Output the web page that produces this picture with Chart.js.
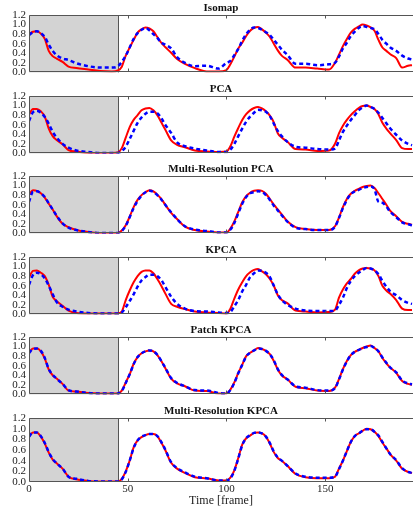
<!DOCTYPE html>
<html>
<head>
<meta charset="utf-8">
<script src="https://cdn.jsdelivr.net/npm/chart.js@4"></script>
<style>
  html, body { margin: 0; padding: 0; background: #fff; }
  #wrap { position: relative; width: 413px; height: 512px; overflow: hidden; }
  #wrap .panel { position: absolute; left: 0; width: 413px; }
</style>
</head>
<body>
<div id="wrap"></div>
<script>
// frame index shared by every series
const frames = [0, 2, 4, 6, 8, 10, 12, 14, 17, 20,
  24, 30, 36, 42, 45, 47, 49, 51, 53, 55,
  57, 59, 61, 63, 65, 67, 69, 72, 75, 79,
  84, 90, 96, 100, 102, 104, 106, 108, 110, 112,
  114, 116, 118, 120, 122, 124, 126, 128, 131, 135,
  140, 146, 152, 155, 157, 159, 161, 163, 165, 167,
  169, 171, 173, 175, 177, 179, 181, 183, 186, 189,
  192, 194];

const isomapTrue = [0.80, 0.85, 0.86, 0.81, 0.70, 0.45, 0.34, 0.29, 0.22, 0.12,
  0.09, 0.06, 0.03, 0.02, 0.04, 0.12, 0.35, 0.52, 0.68, 0.83,
  0.90, 0.94, 0.92, 0.86, 0.74, 0.62, 0.53, 0.41, 0.28, 0.18,
  0.09, 0.02, 0.02, 0.05, 0.17, 0.33, 0.50, 0.62, 0.76, 0.87,
  0.93, 0.95, 0.90, 0.83, 0.74, 0.60, 0.46, 0.35, 0.26, 0.10,
  0.10, 0.08, 0.06, 0.20, 0.37, 0.55, 0.70, 0.83, 0.91, 0.96,
  1.00, 0.98, 0.94, 0.87, 0.68, 0.52, 0.45, 0.38, 0.30, 0.10,
  0.14, 0.15];
const isomapEst = [0.78, 0.84, 0.86, 0.82, 0.74, 0.58, 0.45, 0.36, 0.29, 0.26,
  0.19, 0.13, 0.10, 0.10, 0.13, 0.22, 0.35, 0.52, 0.70, 0.82,
  0.89, 0.93, 0.88, 0.80, 0.72, 0.62, 0.58, 0.50, 0.32, 0.20,
  0.13, 0.14, 0.08, 0.20, 0.24, 0.36, 0.49, 0.66, 0.80, 0.89,
  0.94, 0.93, 0.89, 0.84, 0.78, 0.68, 0.58, 0.48, 0.36, 0.18,
  0.18, 0.15, 0.17, 0.20, 0.33, 0.50, 0.62, 0.76, 0.85, 0.93,
  0.97, 0.95, 0.93, 0.90, 0.80, 0.68, 0.60, 0.52, 0.45, 0.35,
  0.29, 0.27];

const pcaTrue = [0.81, 0.93, 0.93, 0.88, 0.77, 0.52, 0.36, 0.28, 0.19, 0.07,
  0.04, 0.01, 0.01, 0.01, 0.02, 0.11, 0.33, 0.55, 0.70, 0.80,
  0.90, 0.94, 0.95, 0.90, 0.80, 0.65, 0.50, 0.27, 0.18, 0.13,
  0.06, 0.04, 0.03, 0.04, 0.15, 0.35, 0.53, 0.70, 0.82, 0.90,
  0.95, 0.97, 0.94, 0.88, 0.79, 0.65, 0.42, 0.33, 0.24, 0.09,
  0.08, 0.05, 0.06, 0.20, 0.42, 0.58, 0.70, 0.80, 0.88, 0.95,
  0.99, 1.00, 0.97, 0.93, 0.82, 0.64, 0.52, 0.42, 0.28, 0.11,
  0.09, 0.09];
const pcaEst = [0.68, 0.86, 0.89, 0.85, 0.76, 0.62, 0.45, 0.33, 0.20, 0.12,
  0.06, 0.03, 0.01, 0.01, 0.01, 0.05, 0.14, 0.30, 0.47, 0.64,
  0.75, 0.83, 0.87, 0.87, 0.84, 0.74, 0.60, 0.43, 0.23, 0.15,
  0.10, 0.06, 0.03, 0.03, 0.08, 0.20, 0.36, 0.52, 0.66, 0.77,
  0.85, 0.91, 0.90, 0.87, 0.78, 0.62, 0.47, 0.36, 0.24, 0.14,
  0.12, 0.09, 0.08, 0.10, 0.27, 0.45, 0.58, 0.70, 0.80, 0.90,
  0.96, 1.00, 0.97, 0.93, 0.85, 0.74, 0.63, 0.52, 0.39, 0.27,
  0.20, 0.17];

const mrPcaTrue = [0.81, 0.90, 0.89, 0.84, 0.75, 0.62, 0.50, 0.36, 0.20, 0.13,
  0.07, 0.03, 0.01, 0.01, 0.01, 0.06, 0.17, 0.35, 0.55, 0.70,
  0.80, 0.86, 0.90, 0.88, 0.81, 0.72, 0.60, 0.43, 0.30, 0.14,
  0.07, 0.04, 0.02, 0.02, 0.10, 0.25, 0.45, 0.65, 0.78, 0.85,
  0.89, 0.90, 0.89, 0.83, 0.72, 0.60, 0.50, 0.40, 0.25, 0.13,
  0.09, 0.07, 0.07, 0.15, 0.33, 0.55, 0.72, 0.83, 0.89, 0.93,
  0.97, 0.99, 1.00, 0.95, 0.84, 0.72, 0.60, 0.47, 0.36, 0.24,
  0.20, 0.18];
const mrPcaEst = [0.66, 0.87, 0.88, 0.84, 0.76, 0.63, 0.50, 0.37, 0.21, 0.12,
  0.07, 0.03, 0.01, 0.01, 0.01, 0.05, 0.16, 0.34, 0.53, 0.68,
  0.79, 0.86, 0.89, 0.87, 0.80, 0.71, 0.60, 0.44, 0.30, 0.15,
  0.08, 0.05, 0.02, 0.02, 0.08, 0.22, 0.42, 0.62, 0.76, 0.84,
  0.86, 0.88, 0.87, 0.80, 0.70, 0.58, 0.48, 0.38, 0.24, 0.12,
  0.09, 0.07, 0.07, 0.14, 0.32, 0.53, 0.70, 0.82, 0.88, 0.91,
  0.95, 0.97, 0.98, 0.92, 0.66, 0.64, 0.56, 0.45, 0.34, 0.23,
  0.19, 0.17];

const kpcaTrue = [0.77, 0.91, 0.92, 0.87, 0.80, 0.62, 0.37, 0.28, 0.18, 0.08,
  0.03, 0.02, 0.02, 0.02, 0.02, 0.06, 0.30, 0.50, 0.67, 0.80,
  0.89, 0.92, 0.92, 0.86, 0.74, 0.60, 0.44, 0.22, 0.16, 0.11,
  0.06, 0.04, 0.03, 0.02, 0.12, 0.33, 0.52, 0.67, 0.80, 0.88,
  0.93, 0.95, 0.90, 0.84, 0.74, 0.60, 0.40, 0.30, 0.23, 0.08,
  0.06, 0.04, 0.05, 0.10, 0.35, 0.52, 0.65, 0.74, 0.85, 0.92,
  0.96, 0.97, 0.96, 0.92, 0.80, 0.60, 0.50, 0.43, 0.30, 0.12,
  0.09, 0.09];
const kpcaEst = [0.62, 0.82, 0.87, 0.84, 0.75, 0.60, 0.42, 0.26, 0.16, 0.10,
  0.06, 0.03, 0.02, 0.02, 0.02, 0.04, 0.15, 0.28, 0.42, 0.58,
  0.71, 0.78, 0.83, 0.83, 0.80, 0.72, 0.58, 0.37, 0.22, 0.12,
  0.07, 0.06, 0.04, 0.03, 0.05, 0.17, 0.30, 0.48, 0.62, 0.78,
  0.86, 0.92, 0.91, 0.87, 0.78, 0.60, 0.42, 0.30, 0.20, 0.12,
  0.08, 0.07, 0.07, 0.08, 0.20, 0.35, 0.55, 0.70, 0.80, 0.87,
  0.93, 0.97, 0.96, 0.92, 0.84, 0.70, 0.58, 0.48, 0.40, 0.30,
  0.24, 0.22];

const patchKpcaTrue = [0.87, 0.96, 0.96, 0.90, 0.75, 0.52, 0.40, 0.33, 0.22, 0.08,
  0.06, 0.03, 0.02, 0.02, 0.02, 0.08, 0.25, 0.42, 0.64, 0.78,
  0.86, 0.90, 0.92, 0.90, 0.82, 0.70, 0.55, 0.33, 0.23, 0.17,
  0.08, 0.07, 0.02, 0.02, 0.10, 0.25, 0.45, 0.62, 0.80, 0.87,
  0.92, 0.97, 0.95, 0.91, 0.84, 0.70, 0.52, 0.40, 0.31, 0.16,
  0.13, 0.08, 0.07, 0.14, 0.32, 0.53, 0.70, 0.82, 0.89, 0.93,
  0.97, 1.00, 1.02, 0.97, 0.90, 0.76, 0.65, 0.56, 0.45, 0.28,
  0.22, 0.20];
const patchKpcaEst = [0.86, 0.95, 0.96, 0.91, 0.76, 0.53, 0.41, 0.33, 0.22, 0.09,
  0.06, 0.03, 0.02, 0.02, 0.02, 0.07, 0.24, 0.42, 0.63, 0.78,
  0.86, 0.90, 0.92, 0.90, 0.83, 0.70, 0.56, 0.34, 0.24, 0.17,
  0.09, 0.08, 0.03, 0.02, 0.09, 0.24, 0.44, 0.62, 0.79, 0.87,
  0.92, 0.96, 0.95, 0.91, 0.84, 0.71, 0.53, 0.41, 0.31, 0.17,
  0.14, 0.09, 0.08, 0.13, 0.31, 0.52, 0.69, 0.82, 0.89, 0.93,
  0.97, 0.99, 1.01, 0.97, 0.90, 0.77, 0.66, 0.56, 0.46, 0.29,
  0.23, 0.21];

const mrKpcaTrue = [0.86, 0.93, 0.93, 0.85, 0.72, 0.55, 0.42, 0.35, 0.25, 0.10,
  0.05, 0.02, 0.01, 0.01, 0.01, 0.06, 0.20, 0.40, 0.65, 0.78,
  0.84, 0.88, 0.90, 0.90, 0.86, 0.74, 0.60, 0.36, 0.25, 0.17,
  0.09, 0.07, 0.03, 0.03, 0.08, 0.22, 0.45, 0.70, 0.82, 0.87,
  0.92, 0.93, 0.91, 0.85, 0.72, 0.56, 0.45, 0.40, 0.30, 0.15,
  0.09, 0.07, 0.07, 0.10, 0.25, 0.40, 0.58, 0.75, 0.86, 0.91,
  0.96, 1.00, 0.99, 0.94, 0.86, 0.74, 0.63, 0.52, 0.40, 0.25,
  0.19, 0.17];
const mrKpcaEst = [0.85, 0.93, 0.93, 0.86, 0.73, 0.56, 0.43, 0.35, 0.25, 0.10,
  0.06, 0.02, 0.01, 0.01, 0.01, 0.05, 0.19, 0.40, 0.64, 0.78,
  0.85, 0.88, 0.90, 0.90, 0.86, 0.75, 0.61, 0.37, 0.26, 0.18,
  0.10, 0.07, 0.03, 0.03, 0.07, 0.21, 0.44, 0.69, 0.82, 0.88,
  0.92, 0.93, 0.91, 0.85, 0.73, 0.57, 0.46, 0.40, 0.30, 0.16,
  0.10, 0.08, 0.08, 0.10, 0.24, 0.40, 0.58, 0.75, 0.86, 0.91,
  0.96, 0.99, 0.99, 0.94, 0.87, 0.75, 0.63, 0.52, 0.41, 0.26,
  0.19, 0.17];

const panelTitles = ['Isomap', 'PCA', 'Multi-Resolution PCA', 'KPCA', 'Patch KPCA', 'Multi-Resolution KPCA'];
const truthSeries = [isomapTrue, pcaTrue, mrPcaTrue, kpcaTrue, patchKpcaTrue, mrKpcaTrue];
const estSeries = [isomapEst, pcaEst, mrPcaEst, kpcaEst, patchKpcaEst, mrKpcaEst];

const xTicks = [0, 50, 100, 150];
const yTicks = [0, 0.2, 0.4, 0.6, 0.8, 1.0, 1.2];
const xMax = 194.5;
const trainEnd = 45;   // grey block = training frames
const xTitle = 'Time [frame]';

// layout (px)
const panelTops = [15, 96, 176, 257, 337, 418];
const PLOT_H = 64;
const TITLE_SPACE = 15;
const X_AXIS_H = 30;
const Y_AXIS_W = 29;

const SERIF = "'Liberation Serif', 'DejaVu Serif', serif";
const TEXT = '#222';
const SPINE = '#555';

const toPoints = (vals) => vals.map((v, i) => ({ x: frames[i], y: v }));

// grey training block, frame spines, tick marks and panel title
const framePlugin = {
    id: 'panelFrame',
    beforeDatasetsDraw(chart) {
        const { ctx, chartArea: a, scales: { x } } = chart;
        const xe = Math.round(x.getPixelForValue(trainEnd)) + 0.5;
        ctx.save();
        ctx.fillStyle = '#d3d3d3';
        ctx.fillRect(a.left, a.top, xe - a.left, a.bottom - a.top);
        ctx.strokeStyle = SPINE;
        ctx.lineWidth = 1;
        ctx.beginPath();
        ctx.moveTo(xe, a.top);
        ctx.lineTo(xe, a.bottom);
        ctx.stroke();
        ctx.restore();
    },
    afterDraw(chart, args, opts) {
        const { ctx, chartArea: a, scales: { x } } = chart;
        const l = Math.round(a.left) + 0.5;
        const t = Math.round(a.top) + 0.5;
        const b = Math.round(a.bottom) - 0.5;
        ctx.save();
        ctx.strokeStyle = SPINE;
        ctx.lineWidth = 1;
        ctx.beginPath();
        ctx.moveTo(a.right, t);
        ctx.lineTo(l, t);
        ctx.lineTo(l, b);
        ctx.lineTo(a.right, b);
        xTicks.slice(1).forEach((v) => {
            const px = Math.round(x.getPixelForValue(v)) + 0.5;
            ctx.moveTo(px, t);
            ctx.lineTo(px, t + 3);
            ctx.moveTo(px, b);
            ctx.lineTo(px, b - 3);
        });
        ctx.stroke();

        ctx.fillStyle = '#111';
        ctx.font = `bold 11px ${SERIF}`;
        ctx.textAlign = 'center';
        ctx.textBaseline = 'middle';
        ctx.fillText(opts.title, (a.left + a.right) / 2, a.top - 7);
        ctx.restore();
    },
};

const wrap = document.getElementById('wrap');

panelTitles.forEach((title, i) => {
    const last = i === panelTitles.length - 1;
    const box = document.createElement('div');
    box.className = 'panel';
    box.style.top = (panelTops[i] - TITLE_SPACE) + 'px';
    box.style.height = (TITLE_SPACE + PLOT_H + (last ? X_AXIS_H : 3)) + 'px';
    const canvas = document.createElement('canvas');
    box.appendChild(canvas);
    wrap.appendChild(box);

    new Chart(canvas, {
        type: 'line',
        data: {
            datasets: [
                {
                    label: 'estimate',
                    data: toPoints(estSeries[i]),
                    borderColor: '#0000ff',
                    borderWidth: 2.5,
                    borderDash: [4, 3],
                    pointRadius: 0,
                    cubicInterpolationMode: 'monotone',
                    order: 0,
                },
                {
                    label: 'ground truth',
                    data: toPoints(truthSeries[i]),
                    borderColor: '#ff0000',
                    borderWidth: 2,
                    pointRadius: 0,
                    cubicInterpolationMode: 'monotone',
                    order: 1,
                },
            ],
        },
        options: {
            responsive: true,
            maintainAspectRatio: false,
            animation: false,
            layout: { padding: { top: TITLE_SPACE, bottom: last ? 0 : 3, left: 0, right: 0 } },
            plugins: {
                legend: { display: false },
                tooltip: { enabled: false },
                panelFrame: { title },
            },
            scales: {
                x: {
                    type: 'linear',
                    min: 0,
                    max: xMax,
                    afterBuildTicks: (ax) => { ax.ticks = xTicks.map((v) => ({ value: v })); },
                    afterFit: (ax) => { ax.height = last ? X_AXIS_H : 0; },
                    grid: { display: false, drawTicks: false },
                    border: { display: false },
                    ticks: {
                        display: last,
                        autoSkip: false,
                        padding: 1,
                        maxRotation: 0,
                        color: TEXT,
                        font: { family: SERIF, size: 11 },
                    },
                    title: {
                        display: last,
                        text: xTitle,
                        color: TEXT,
                        padding: { top: 0, bottom: 4 },
                        font: { family: SERIF, size: 12 },
                    },
                },
                y: {
                    min: 0,
                    max: 1.2,
                    afterBuildTicks: (ax) => { ax.ticks = yTicks.map((v) => ({ value: v })); },
                    afterFit: (ax) => { ax.width = Y_AXIS_W; },
                    grid: { display: false, drawTicks: false },
                    border: { display: false },
                    ticks: {
                        autoSkip: false,
                        padding: 3,
                        color: TEXT,
                        font: { family: SERIF, size: 11 },
                        callback: (v) => v.toFixed(1),
                    },
                },
            },
        },
        plugins: [framePlugin],
    });
});
</script>
</body>
</html>
